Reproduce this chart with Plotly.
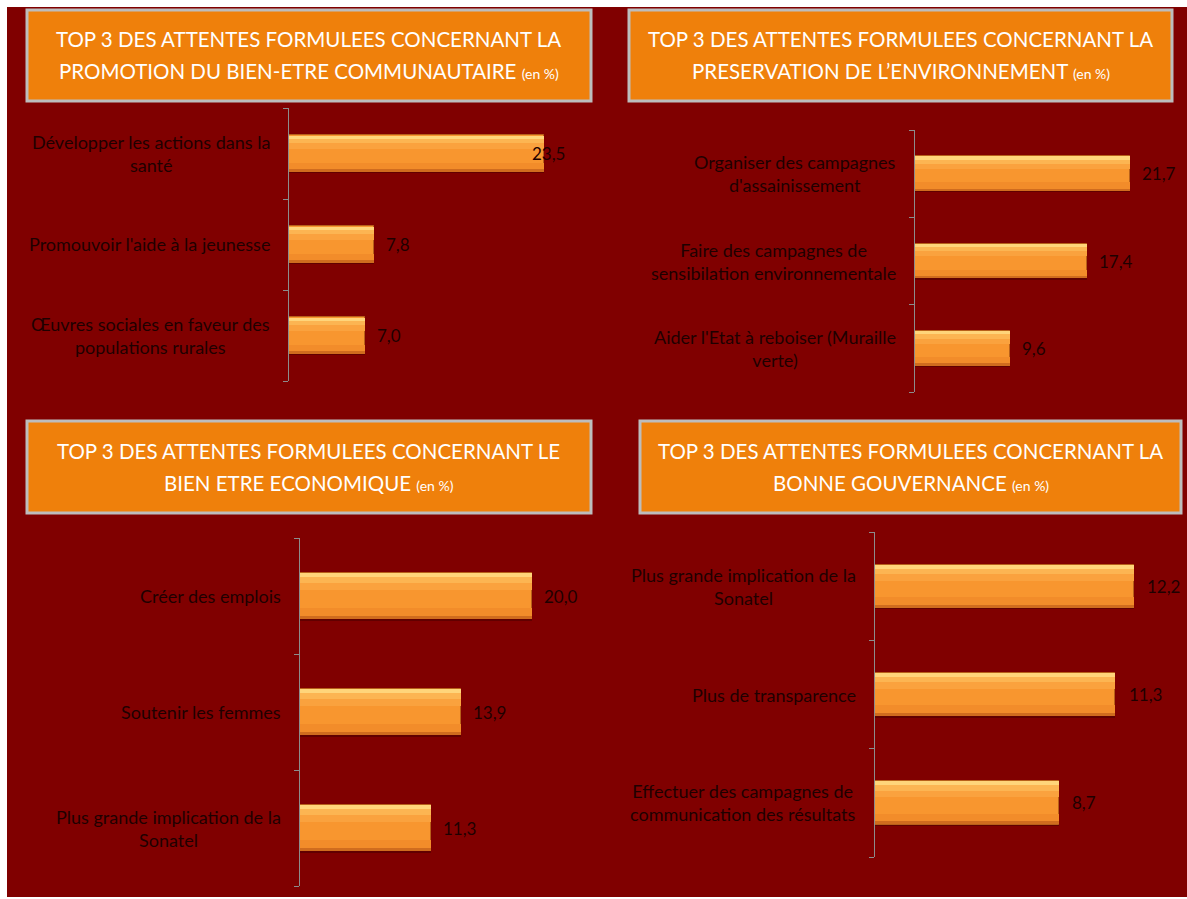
import plotly.graph_objects as go

W, H = 1187, 899

# ---------------- data ----------------
titles_1 = ["TOP 3 DES ATTENTES FORMULEES CONCERNANT LA", "PROMOTION DU BIEN-ETRE COMMUNAUTAIRE"]
cats_1 = ["Développer les actions dans la<br>santé",
          "Promouvoir l'aide à la jeunesse",
          "Œuvres sociales en faveur des<br>populations rurales"]
vals_1 = [23.5, 7.8, 7.0]

titles_2 = ["TOP 3 DES ATTENTES FORMULEES CONCERNANT LA", "PRESERVATION DE L\u2019ENVIRONNEMENT"]
cats_2 = ["Organiser des campagnes<br>d'assainissement",
          "Faire des campagnes de<br>sensibilation environnementale",
          "Aider l'Etat à reboiser (Muraille<br>verte)"]
vals_2 = [21.7, 17.4, 9.6]

titles_3 = ["TOP 3 DES ATTENTES FORMULEES CONCERNANT LE", "BIEN ETRE ECONOMIQUE"]
cats_3 = ["Créer des emplois",
          "Soutenir les femmes",
          "Plus grande implication de la<br>Sonatel"]
vals_3 = [20.0, 13.9, 11.3]

titles_4 = ["TOP 3 DES ATTENTES FORMULEES CONCERNANT LA", "BONNE GOUVERNANCE"]
cats_4 = ["Plus grande implication de la<br>Sonatel",
          "Plus de transparence",
          "Effectuer des campagnes de<br>communication des résultats"]
vals_4 = [12.2, 11.3, 8.7]

unit_suffix = "(en %)"

# ---------------- layout (pixels) ----------------
panels = [
    dict(titles=titles_1, cats=cats_1, vals=vals_1, box=(27, 10, 591, 101),
         ax=289, scale=10.85, xmax=25, y0=108, y1=381, lshift=[-14, 10, 10]),
    dict(titles=titles_2, cats=cats_2, vals=vals_2, box=(629, 10, 1172, 101),
         ax=915, scale=9.91, xmax=25, y0=130, y1=392, lshift=[10, 10, 10]),
    dict(titles=titles_3, cats=cats_3, vals=vals_3, box=(27, 421, 591, 513),
         ax=300, scale=11.6, xmax=22, y0=538, y1=886, lshift=[10, 10, 10]),
    dict(titles=titles_4, cats=cats_4, vals=vals_4, box=(640, 421, 1181, 513),
         ax=875, scale=21.2, xmax=13, y0=532, y1=857, lshift=[11, 12, 11]),
]

BG = "#800000"
ORANGE_BOX = "#EF800B"
BOX_LINE = "#BDBDBD"
TXT_DARK = "#1E0000"
FONT = "Lato"

def px(x):
    return x / W

def py(y):
    return 1 - y / H

fig = go.Figure()
shapes = []
annotations = []
layout_axes = {}

shapes.append(dict(type="rect", xref="paper", yref="paper",
                   x0=px(7), x1=px(1187), y0=py(897), y1=py(7),
                   fillcolor=BG, line=dict(width=0), layer="below"))

def band(p, xr, yr, width, offset, color):
    return go.Bar(x=p["vals"], y=list(range(len(p["vals"]))), orientation="h",
                  width=width, offset=offset,
                  marker=dict(color=color, line=dict(width=0)),
                  xaxis=xr, yaxis=yr, showlegend=False, hoverinfo="skip")

for i, p in enumerate(panels, start=1):
    xa = "xaxis" if i == 1 else f"xaxis{i}"
    ya = "yaxis" if i == 1 else f"yaxis{i}"
    xr = "x" if i == 1 else f"x{i}"
    yr = "y" if i == 1 else f"y{i}"
    n = len(p["vals"])
    pos = list(range(n))
    x0 = p["ax"]
    x1 = p["ax"] + p["xmax"] * p["scale"]
    layout_axes[xa] = dict(domain=[px(x0), px(x1)], range=[0, p["xmax"]],
                           visible=False, anchor=yr, fixedrange=True)
    layout_axes[ya] = dict(domain=[py(p["y1"]), py(p["y0"])], range=[n - 0.5, -0.5],
                           anchor=xr, showline=True, linecolor="#8C8C8C", linewidth=1,
                           ticks="outside", ticklen=5, tickcolor="#8C8C8C",
                           tickvals=[k - 0.5 for k in range(n + 1)],
                           showticklabels=False, showgrid=False, zeroline=False,
                           fixedrange=True)

    # soft shadow
    fig.add_trace(band(p, xr, yr, 0.4, -0.185, "rgba(40,0,0,0.35)"))
    # main bar
    fig.add_trace(go.Bar(x=p["vals"], y=pos, orientation="h", width=0.4,
                         marker=dict(color="#F8962F", line=dict(color="#B8601A", width=1)),
                         xaxis=xr, yaxis=yr, showlegend=False))
    # bevel / gradient bands
    fig.add_trace(band(p, xr, yr, 0.035, -0.197, "#FFD57A"))
    fig.add_trace(band(p, xr, yr, 0.05, -0.162, "#FCB552"))
    fig.add_trace(band(p, xr, yr, 0.06, -0.112, "#FAA23E"))
    fig.add_trace(band(p, xr, yr, 0.07, 0.10, "#F28C2A"))
    fig.add_trace(band(p, xr, yr, 0.028, 0.17, "#D06C1E"))

    for k, c in enumerate(p["cats"]):
        annotations.append(dict(text=c, xref=f"{xr} domain", yref=yr, x=0, y=k,
                                xanchor="right", yanchor="middle", xshift=-17,
                                align="center", showarrow=False,
                                font=dict(family=FONT, size=18, color=TXT_DARK)))
    for k, v in enumerate(p["vals"]):
        annotations.append(dict(text=f"{v:.1f}".replace(".", ","), xref=xr, yref=yr,
                                x=v, y=k, xanchor="left", yanchor="middle",
                                xshift=p["lshift"][k], showarrow=False,
                                font=dict(family=FONT, size=17, color=TXT_DARK)))

    bx0, by0, bx1, by1 = p["box"]
    shapes.append(dict(type="rect", xref="paper", yref="paper",
                       x0=px(bx0), x1=px(bx1), y0=py(by1), y1=py(by0),
                       fillcolor=ORANGE_BOX, line=dict(color=BOX_LINE, width=3),
                       layer="below"))
    cx = px((bx0 + bx1) / 2)
    cy = (by0 + by1) / 2
    annotations.append(dict(text=p["titles"][0], xref="paper", yref="paper",
                            x=cx, y=py(cy - 16), xanchor="center", yanchor="middle",
                            showarrow=False,
                            font=dict(family=FONT, size=20.5, color="white")))
    annotations.append(dict(text=p["titles"][1] + " <span style='font-size:14px'>" + unit_suffix + "</span>",
                            xref="paper", yref="paper",
                            x=cx, y=py(cy + 16), xanchor="center", yanchor="middle",
                            showarrow=False,
                            font=dict(family=FONT, size=20.5, color="white")))

fig.update_layout(width=W, height=H, margin=dict(l=0, r=0, t=0, b=0),
                  paper_bgcolor="white", plot_bgcolor="rgba(0,0,0,0)",
                  barmode="overlay", bargap=0, shapes=shapes, annotations=annotations,
                  showlegend=False, **layout_axes)

fig.write_html("out.html")
